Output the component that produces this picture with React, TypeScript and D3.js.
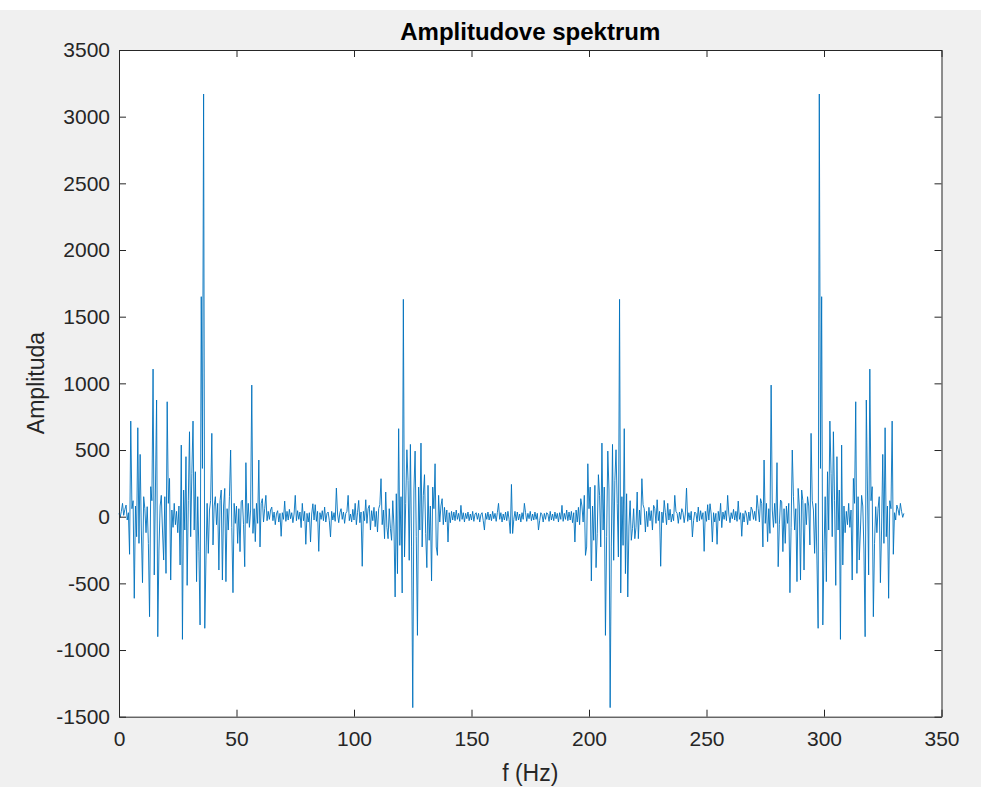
import { useEffect, useRef } from "react";
import * as d3 from "d3";

// sample spacing of the spectrum (Hz)
const freqStep = 0.5;

// real part of the spectrum from 0 Hz up to fs/2 (~167 Hz), read off the plot
// one row = 5 Hz (10 samples)
const halfSpectrum = [
  25, -5, 40, 100, 10, 55, 87, -25, 30, -282,
  717, 60, 120, -612, 80, -150, 667, -200, 467, -100,
  -495, 150, 60, -120, 75, -200, -750, 225, 120, 1107,
  -437, 200, 875, -900, -250, 80, 160, -100, -325, 150,
  -425, 862, 100, 287, -475, 50, -80, 100, -60, 40,
  -120, 80, -362, 537, -920, 200, -100, 450, -515, 120,
  637, -150, 325, 717, -100, 337, -487, 150, -262, -812,
  1650, 362, 3170, -837, -325, 100, -275, 50, 120, 625,
  -212, 80, 150, -60, 100, -400, 120, 200, -475, 80,
  212, -487, 60, -100, 150, 500, -80, -570, 100, -50,
  80, -200, 60, -262, 112, 125, -60, -375, 405, -50,
  100, -80, 50, 987, -125, 60, -187, 100, -50, 425,
  -227, 100, 135, -40, 60, 160, -30, 40, -20, 50,
  72, -30, 35, -60, 20, 45, -40, 25, -147, 30,
  -20, 117, -35, 40, -25, 55, -15, 30, -45, 20,
  160, -30, 45, -20, 35, -82, 100, -30, 40, -207,
  25, -40, 30, -190, 20, 97, -25, 90, -35, 40,
  -260, 30, -20, 45, -30, 72, -40, 25, 35, -30,
  -152, 40, -25, 30, -35, 215, 20, -45, 30, 60,
  -20, 35, -50, 25, 40, 160, -30, 20, -40, 55,
  -25, 100, -60, 30, 122, -45, 35, -372, 40, -30,
  127, -50, 60, 85, -100, 45, -30, 70, -75, 40,
  -115, 60, 90, 285, -60, 50, -165, 185, -80, -165,
  60, -90, -177, 120, -70, -602, 172, -427, 660, -215,
  150, -572, 1630, -302, 100, 502, 272, -327, 542, -227,
  -1432, 200, 492, -150, -890, 222, -100, 552, -227, 160,
  315, -127, -382, 235, -177, 80, -482, 222, 60, 397,
  -227, -290, 160, -40, 80, 135, -60, 70, -40, 50,
  -190, 30, -45, 40, -25, 35, -30, 50, -20, 25,
  -35, 85, -20, 30, -40, 25, -15, 35, -30, 20,
  -25, 40, -35, 20, 30, -20, 25, -40, 15, 30,
  -30, -100, 25, -20, 35, -25, 20, -30, 40, -15,
  25, -35, 30, 100, -20, 30, -40, 20, -25, 35,
  -30, 40, -20, -126, 242,
];

const xTicks = [0, 50, 100, 150, 200, 250, 300, 350];
const yTicks = [-1500, -1000, -500, 0, 500, 1000, 1500, 2000, 2500, 3000, 3500];

// spectrum of a real signal is mirrored around fs/2
const amplitude = halfSpectrum.concat(halfSpectrum.slice(0, -1).reverse());

export default function App() {
  const ref = useRef<SVGSVGElement>(null);

  useEffect(() => {
    document.body.style.margin = "0";
    const width = 981;
    const height = 787;
    const left = 119, right = 941.5, top = 50, bottom = 716.7;
    const font = "'Liberation Sans', Arial, Helvetica, sans-serif";
    const axisColor = "#262626";
    const fmt = (d: any) => String(d);

    const svg = d3.select(ref.current!);
    svg.selectAll("*").remove();
    svg.attr("width", width).attr("height", height);

    svg.append("rect").attr("width", width).attr("height", height).attr("fill", "#ffffff");
    svg.append("rect").attr("y", 10).attr("width", width).attr("height", height - 10).attr("fill", "#f0f0f0");
    svg.append("rect")
      .attr("x", left).attr("y", top)
      .attr("width", right - left).attr("height", bottom - top)
      .attr("fill", "#ffffff");

    const x = d3.scaleLinear().domain([0, 350]).range([left, right]);
    const y = d3.scaleLinear().domain([-1500, 3500]).range([bottom, top]);

    const line = d3.line<number>()
      .x((d, i) => x(i * freqStep))
      .y(d => y(d));

    svg.append("path")
      .datum(amplitude)
      .attr("d", line)
      .attr("fill", "none")
      .attr("stroke", "#0072BD")
      .attr("stroke-width", 0.9)
      .attr("stroke-linejoin", "miter");

    const styleAxis = (g: any) => {
      g.selectAll("path").attr("stroke", axisColor);
      g.selectAll("line").attr("stroke", axisColor);
      g.selectAll("text")
        .attr("fill", axisColor)
        .style("font-family", font)
        .style("font-size", "21px");
    };

    svg.append("g")
      .attr("transform", `translate(0,${bottom})`)
      .call(d3.axisBottom(x).tickValues(xTicks).tickFormat(fmt).tickSizeInner(-7).tickSizeOuter(0).tickPadding(14))
      .call(styleAxis);
    svg.append("g")
      .attr("transform", `translate(0,${top})`)
      .call(d3.axisTop(x).tickValues(xTicks).tickSizeInner(-7).tickSizeOuter(0).tickFormat(() => ""))
      .call(styleAxis);
    svg.append("g")
      .attr("transform", `translate(${left},0)`)
      .call(d3.axisLeft(y).tickValues(yTicks).tickFormat(fmt).tickSizeInner(-7).tickSizeOuter(0).tickPadding(9))
      .call(styleAxis);
    svg.append("g")
      .attr("transform", `translate(${right},0)`)
      .call(d3.axisRight(y).tickValues(yTicks).tickSizeInner(-7).tickSizeOuter(0).tickFormat(() => ""))
      .call(styleAxis);

    svg.selectAll(".domain").attr("fill", "none");

    svg.append("text")
      .attr("x", (left + right) / 2).attr("y", 40)
      .attr("text-anchor", "middle")
      .style("font-family", font).style("font-size", "24px").style("font-weight", "bold")
      .attr("fill", "#000000")
      .text("Amplitudove spektrum");

    svg.append("text")
      .attr("x", (left + right) / 2).attr("y", 781)
      .attr("text-anchor", "middle")
      .style("font-family", font).style("font-size", "23px")
      .attr("fill", axisColor)
      .text("f (Hz)");

    svg.append("text")
      .attr("transform", `translate(44,383) rotate(-90)`)
      .attr("text-anchor", "middle")
      .style("font-family", font).style("font-size", "23px")
      .attr("fill", axisColor)
      .text("Amplituda");
  }, []);

  return <svg ref={ref} style={{ display: "block" }} />;
}
